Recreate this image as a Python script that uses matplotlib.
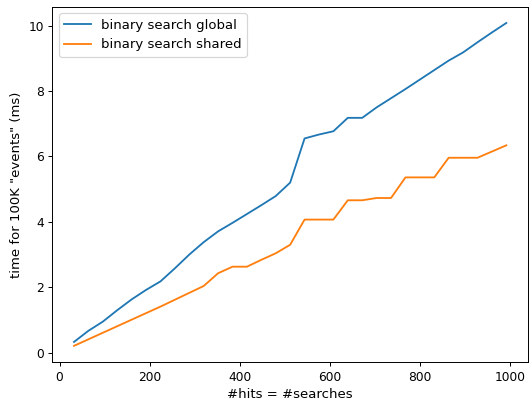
import matplotlib
matplotlib.use("Agg")
import matplotlib.pyplot as plt

# number of hits (== number of searches)
hits = [32, 64, 96, 128, 160, 192, 224, 256, 288, 320, 352, 384, 416, 448, 480, 512,
        544, 576, 608, 640, 672, 704, 736, 768, 800, 832, 864, 896, 928, 960, 992]

# time for 100K events, ms
t_global = [0.33, 0.67, 0.95, 1.30, 1.63, 1.92, 2.18, 2.58, 3.00, 3.38, 3.71, 3.97, 4.24, 4.51, 4.79, 5.20,
            6.55, 6.67, 6.77, 7.18, 7.18, 7.50, 7.78, 8.06, 8.35, 8.64, 8.93, 9.18, 9.49, 9.79, 10.08]
t_shared = [0.21, 0.41, 0.61, 0.81, 1.01, 1.21, 1.41, 1.62, 1.83, 2.04, 2.43, 2.63, 2.63, 2.84, 3.04, 3.30,
            4.07, 4.07, 4.07, 4.66, 4.66, 4.73, 4.73, 5.36, 5.36, 5.36, 5.96, 5.96, 5.96, 6.15, 6.34]

dpi = 88
fig, ax = plt.subplots(figsize=(529 / dpi, 402 / dpi), dpi=dpi)
fig.subplots_adjust(left=0.099, right=0.998, top=0.983, bottom=0.0995)

ax.plot(hits, t_global, label='binary search global')
ax.plot(hits, t_shared, label='binary search shared')

ax.set_xlabel('#hits = #searches', fontsize=10.8)
ax.set_ylabel('time for 100K "events" (ms)', fontsize=10.8)
ax.legend(loc='upper left', fontsize=10.8)

fig.savefig('out.png', dpi=dpi)
